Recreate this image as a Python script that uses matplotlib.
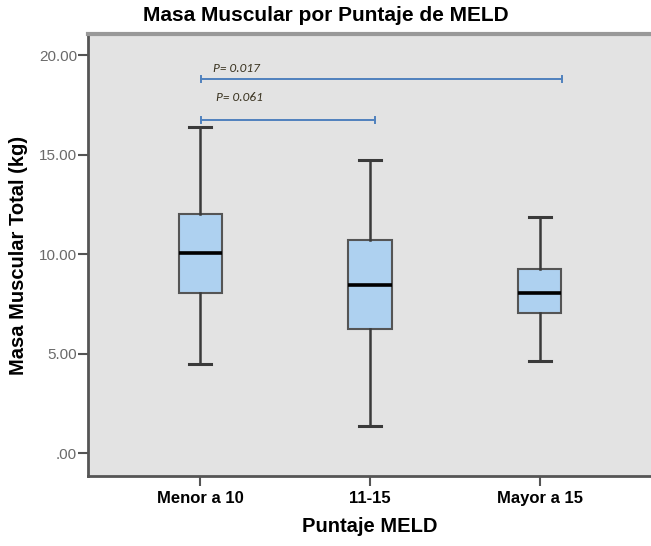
import numpy as np
import matplotlib
matplotlib.use("Agg")
import matplotlib.pyplot as plt

plt.rcParams['font.family'] = ['Liberation Sans', 'DejaVu Sans']

# datos
grupos = ['Menor a 10', '11-15', 'Mayor a 15']
bigote_inf = [4.47, 1.36, 4.62]
q1 = [8.04, 6.25, 7.04]
mediana = [10.05, 8.43, 8.04]
q3 = [12.01, 10.70, 9.25]
bigote_sup = [16.37, 14.72, 11.86]

# comparaciones (desde, hasta, altura, texto)
comp_desde = [0.006, 0.006]
comp_hasta = [2.13, 1.03]
comp_y = [18.79, 16.73]
comp_txt = ['P= 0.017', 'P= 0.061']
txt_x = [0.076, 0.094]
txt_y = [19.35, 17.89]

stats = []
for i in range(len(grupos)):
    stats.append(dict(label=grupos[i], whislo=bigote_inf[i], q1=q1[i],
                      med=mediana[i], q3=q3[i], whishi=bigote_sup[i], fliers=[]))

fig = plt.figure(figsize=(6.51, 5.46), dpi=100)
ax = fig.add_axes([88/651, 70/546, 564/651, 442/546])
ax.set_facecolor('#E3E3E3')

bp = ax.bxp(stats, positions=np.arange(len(grupos)), widths=0.253,
            patch_artist=True, showfliers=False, capwidths=0.125,
            boxprops=dict(facecolor='#AED1F0', edgecolor='#555555', linewidth=1.5),
            medianprops=dict(color='black', linewidth=2.6),
            whiskerprops=dict(color='#3a3a3a', linewidth=1.8),
            capprops=dict(color='#3a3a3a', linewidth=2.2))

# lineas de comparacion
for a, b, y, t, tx, ty in zip(comp_desde, comp_hasta, comp_y, comp_txt, txt_x, txt_y):
    ax.plot([a, b], [y, y], color='#4F81BD', lw=1.4)
    ax.plot([a, a], [y - 0.15, y + 0.15], color='#4F81BD', lw=1.4)
    ax.plot([b, b], [y - 0.15, y + 0.15], color='#4F81BD', lw=1.4)
    ax.text(tx, ty, t, fontsize=9.5, style='italic', color='#3a3320',
            va='center', ha='left', family=['Carlito', 'Liberation Sans', 'DejaVu Sans'])

ax.set_xlim(-0.659, 2.659)
ax.set_ylim(-1.156, 21.06)
ax.set_yticks([0, 5, 10, 15, 20])
ax.set_yticklabels(['.00', '5.00', '10.00', '15.00', '20.00'])
ax.set_xticks(np.arange(len(grupos)))
ax.set_xticklabels(grupos, fontsize=12, fontweight='bold')
ax.tick_params(axis='y', labelsize=11, labelcolor='#6a6a6a', length=7, width=1.5,
               color='#555555', pad=1)
ax.tick_params(axis='x', length=7, width=1.5, color='#555555', pad=4)

for s in ['left', 'bottom']:
    ax.spines[s].set_color('#555555')
    ax.spines[s].set_linewidth(2)
ax.spines['top'].set_color('#999999')
ax.spines['top'].set_linewidth(3)
ax.spines['right'].set_visible(False)

ax.set_xlabel('Puntaje MELD', fontsize=14.5, fontweight='bold', labelpad=8)
ax.set_ylabel('Masa Muscular Total (kg)', fontsize=14.5, fontweight='bold', labelpad=8)
fig.suptitle('Masa Muscular por Puntaje de MELD', fontsize=15, fontweight='bold',
             x=0.5, y=0.972, va='center')

fig.savefig('out.png', dpi=100)
